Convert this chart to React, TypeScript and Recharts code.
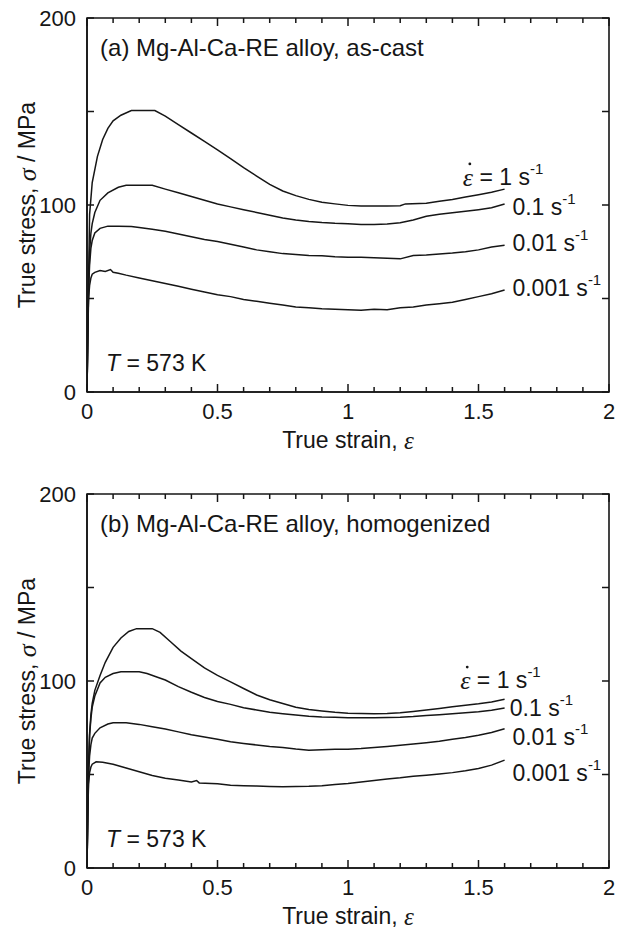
import { LineChart, Line, XAxis, YAxis, ReferenceDot, ReferenceArea } from "recharts"

type Pt = [number, number]

const strainTicks = [0, 0.1, 0.2, 0.3, 0.4, 0.5, 0.6, 0.7, 0.8, 0.9, 1, 1.1, 1.2, 1.3, 1.4, 1.5, 1.6, 1.7, 1.8, 1.9, 2]
const strainLabels = [0, 0.5, 1, 1.5, 2]
const stressTicks = [0, 50, 100, 150, 200]
const stressLabels = [0, 100, 200]
const rateNames = ["1", "0.1", "0.01", "0.001"]

// (a) as-cast, [strain, stress MPa]
const castRate1: Pt[] = [
  [0, 0], [0.003, 30], [0.006, 60], [0.01, 95], [0.02, 112], [0.04, 126], [0.06, 135], [0.08, 141],
  [0.1, 145], [0.13, 148], [0.17, 150.5], [0.26, 150.5], [0.3, 147.5], [0.35, 143], [0.4, 138.5],
  [0.45, 134], [0.5, 129.5], [0.55, 124.8], [0.6, 120], [0.65, 115.5], [0.7, 111], [0.75, 107.5],
  [0.8, 105], [0.85, 103], [0.9, 101.5], [0.95, 100.6], [1.0, 99.8], [1.05, 99.4], [1.1, 99.4],
  [1.15, 99.5], [1.2, 99.6], [1.22, 100.6], [1.3, 101], [1.35, 102], [1.4, 103], [1.45, 104.3],
  [1.5, 105.5], [1.55, 106.8], [1.6, 108.5],
]
const castRate01: Pt[] = [
  [0, 0], [0.003, 30], [0.006, 55], [0.01, 75], [0.015, 85], [0.02, 90], [0.03, 96], [0.05, 102.5],
  [0.08, 106.5], [0.12, 109.5], [0.15, 110.5], [0.25, 110.5], [0.3, 108.5], [0.35, 106.5], [0.4, 104.5],
  [0.45, 102.5], [0.5, 100.5], [0.55, 99], [0.6, 97.5], [0.65, 96], [0.7, 94.5], [0.75, 93], [0.8, 92],
  [0.85, 91.2], [0.9, 90.6], [0.95, 90.2], [1.0, 90], [1.05, 89.6], [1.1, 89.6], [1.15, 89.8], [1.2, 90.5],
  [1.25, 92], [1.3, 94], [1.35, 95], [1.4, 95.8], [1.45, 96.6], [1.5, 97.5], [1.55, 98.5], [1.6, 100.5],
]
const castRate001: Pt[] = [
  [0, 0], [0.003, 30], [0.006, 55], [0.01, 68], [0.015, 77], [0.02, 81], [0.03, 85], [0.05, 87.5],
  [0.08, 88.7], [0.12, 88.7], [0.17, 88.5], [0.2, 88], [0.25, 87], [0.3, 86], [0.35, 84.5], [0.4, 83],
  [0.45, 81.5], [0.5, 80.5], [0.55, 79], [0.6, 77.5], [0.65, 76], [0.7, 75], [0.75, 74], [0.8, 73.5],
  [0.85, 73], [0.9, 72.8], [0.95, 72.3], [1.0, 72], [1.05, 72], [1.1, 71.8], [1.15, 71.5], [1.2, 71.2],
  [1.25, 73], [1.3, 73.3], [1.35, 73.8], [1.4, 74.3], [1.45, 75], [1.5, 76], [1.55, 77.5], [1.6, 78.5],
]
const castRate0001: Pt[] = [
  [0, 0], [0.003, 30], [0.006, 50], [0.01, 57], [0.015, 61], [0.02, 63], [0.03, 64], [0.05, 65],
  [0.07, 64.5], [0.09, 65.5], [0.1, 64], [0.12, 63.5], [0.15, 62.5], [0.2, 61], [0.25, 59.5], [0.3, 58],
  [0.35, 56.5], [0.4, 55], [0.45, 53.5], [0.5, 52], [0.55, 51], [0.6, 49.5], [0.65, 48.5], [0.7, 47.5],
  [0.75, 46.5], [0.8, 45.5], [0.85, 45], [0.9, 44.5], [0.95, 44.3], [1.0, 44], [1.05, 43.7], [1.1, 44.2],
  [1.15, 44], [1.2, 45], [1.25, 45.5], [1.3, 46.5], [1.35, 47.2], [1.4, 48], [1.45, 49.5], [1.5, 51],
  [1.55, 52.5], [1.6, 54.5],
]

// (b) homogenized
const homoRate1: Pt[] = [
  [0, 0], [0.003, 30], [0.006, 55], [0.01, 72], [0.015, 82], [0.02, 88], [0.03, 95], [0.05, 103],
  [0.07, 110], [0.1, 118], [0.13, 123], [0.16, 126.5], [0.19, 128], [0.25, 128], [0.28, 126], [0.32, 121],
  [0.36, 116], [0.4, 112], [0.45, 107], [0.5, 103], [0.55, 99.5], [0.6, 96], [0.65, 92.5], [0.7, 90],
  [0.75, 88], [0.8, 86], [0.85, 84.8], [0.9, 84], [0.95, 83.3], [1.0, 82.8], [1.05, 82.6], [1.1, 82.5],
  [1.15, 82.6], [1.2, 83], [1.25, 83.7], [1.3, 84.5], [1.35, 85.3], [1.4, 86.2], [1.45, 87], [1.5, 87.8],
  [1.55, 88.8], [1.6, 90.2],
]
const homoRate01: Pt[] = [
  [0, 0], [0.003, 30], [0.006, 55], [0.01, 71], [0.015, 80], [0.02, 86], [0.03, 92], [0.05, 99],
  [0.07, 102], [0.1, 104], [0.13, 105], [0.2, 105], [0.23, 104], [0.27, 102], [0.3, 100.5], [0.35, 97],
  [0.4, 94], [0.45, 91.2], [0.5, 89], [0.55, 87.5], [0.6, 85.7], [0.65, 84.5], [0.7, 83.3], [0.75, 82.5],
  [0.8, 81.8], [0.85, 81.2], [0.9, 80.8], [0.95, 80.6], [1.0, 80.4], [1.05, 80.3], [1.1, 80.4], [1.15, 80.5],
  [1.2, 80.6], [1.25, 81], [1.3, 81.6], [1.35, 82], [1.4, 82.5], [1.45, 83], [1.5, 83.6], [1.55, 84.4],
  [1.6, 85.5],
]
const homoRate001: Pt[] = [
  [0, 0], [0.003, 30], [0.006, 50], [0.01, 60], [0.015, 66], [0.02, 69.5], [0.03, 72], [0.05, 75],
  [0.08, 77], [0.1, 77.7], [0.15, 77.7], [0.2, 76.8], [0.25, 75.5], [0.3, 74.3], [0.35, 72.8], [0.4, 71.2],
  [0.45, 70], [0.5, 68.8], [0.55, 67.5], [0.6, 66.6], [0.65, 65.8], [0.7, 65], [0.75, 64.5], [0.8, 63.6],
  [0.85, 63], [0.9, 63.2], [0.95, 63.5], [1.0, 63.5], [1.05, 63.9], [1.1, 64.5], [1.15, 65], [1.2, 65.6],
  [1.25, 66.3], [1.3, 67], [1.35, 67.8], [1.4, 68.8], [1.45, 69.8], [1.5, 71], [1.55, 72.5], [1.6, 74.5],
]
const homoRate0001: Pt[] = [
  [0, 0], [0.003, 30], [0.006, 45], [0.01, 51], [0.015, 54], [0.02, 55.5], [0.035, 56.8], [0.06, 56.5],
  [0.1, 55.5], [0.15, 53.5], [0.2, 51.5], [0.25, 49.5], [0.3, 48], [0.35, 47], [0.4, 46], [0.42, 46.8],
  [0.43, 45.5], [0.5, 45], [0.55, 44.3], [0.6, 44], [0.65, 43.8], [0.7, 43.6], [0.75, 43.4], [0.8, 43.6],
  [0.85, 43.7], [0.9, 44], [0.95, 44.6], [1.0, 45.2], [1.05, 46], [1.1, 46.8], [1.15, 47.6], [1.2, 48.2],
  [1.25, 49], [1.3, 49.6], [1.35, 50.3], [1.4, 51], [1.45, 52], [1.5, 53.2], [1.55, 55], [1.6, 57.7],
]

// where the rate labels sit, [strain, stress]
const castLabelAt: Pt[] = [[1.44, 115], [1.63, 99], [1.63, 79.7], [1.63, 55.6]]
const homoLabelAt: Pt[] = [[1.43, 100.5], [1.62, 85.6], [1.63, 70], [1.63, 50.8]]
const titleAt: Pt = [0.05, 184]
const tempAt: Pt = [0.073, 15.5]

const W = 625
const H = 455
const M = { top: 18, right: 16, bottom: 0, left: 0 }
const AXIS_W = 87
const AXIS_H = 63
// plot frame edges, used for the mirrored tick marks on the top and right sides
const plotLeft = M.left + AXIS_W
const plotRight = W - M.right
const plotTop = M.top
const plotBottom = H - M.bottom - AXIS_H

const ink = "#161616"
const sans = "'Liberation Sans', Arial, Helvetica, sans-serif"
const serif = "'Liberation Serif', 'Times New Roman', serif"
const fs = 23

const toRows = (pts: Pt[]) => pts.map(([x, y]) => ({ x, y }))
const near = (list: number[], v: number) => list.some((l) => Math.abs(l - v) < 1e-6)

function strainTick(p: any) {
  const major = near(strainLabels, p.payload.value)
  const len = major ? 8 : 5
  return (
    <g>
      <line x1={p.x} x2={p.x} y1={plotBottom} y2={plotBottom - len} stroke={ink} strokeWidth={1.5} />
      <line x1={p.x} x2={p.x} y1={plotTop} y2={plotTop + len} stroke={ink} strokeWidth={1.5} />
      {major && (
        <text x={p.x} y={plotBottom + 19} textAnchor="middle" dominantBaseline="central" fontFamily={sans} fontSize={22} fill={ink}>
          {p.payload.value}
        </text>
      )}
    </g>
  )
}

function stressTick(p: any) {
  const v = p.payload.value
  return (
    <g>
      <line x1={plotLeft} x2={plotLeft + 7} y1={p.y} y2={p.y} stroke={ink} strokeWidth={1.5} />
      <line x1={plotRight} x2={plotRight - 7} y1={p.y} y2={p.y} stroke={ink} strokeWidth={1.5} />
      {near(stressLabels, v) && (
        <text x={plotLeft - 11} y={p.y} textAnchor="end" dominantBaseline="central" fontFamily={sans} fontSize={22} fill={ink}>
          {v}
        </text>
      )}
    </g>
  )
}

function xTitle(p: any) {
  const vb = p.viewBox
  return (
    <text x={vb.x + vb.width / 2} y={plotBottom + 48} textAnchor="middle" dominantBaseline="central" fontFamily={sans} fontSize={fs} fill={ink}>
      True strain, <tspan fontFamily={serif} fontStyle="italic" fontSize={25}>ε</tspan>
    </text>
  )
}

function yTitle() {
  const cx = 27
  const cy = (plotTop + plotBottom) / 2
  return (
    <text x={cx} y={cy} transform={`rotate(-90 ${cx} ${cy})`} textAnchor="middle" dominantBaseline="central" fontFamily={sans} fontSize={fs} fill={ink}>
      True stress, <tspan fontFamily={serif} fontStyle="italic" fontSize={26}>σ</tspan> / MPa
    </text>
  )
}

function rateLabel(rate: string) {
  return (p: any) => {
    const x = p.viewBox.x
    const y = p.viewBox.y
    if (rate === "1") {
      return (
        <g>
          <text x={x} y={y} dominantBaseline="central" fill={ink} fontFamily={sans} fontSize={fs}>
            <tspan fontFamily={serif} fontStyle="italic" fontSize={26}>ε</tspan>
            <tspan> = 1 s</tspan>
            <tspan dy={-9} fontSize={15}>-1</tspan>
          </text>
          <circle cx={x + 7} cy={y - 13} r={1.4} fill={ink} />
        </g>
      )
    }
    return (
      <text x={x} y={y} dominantBaseline="central" fontFamily={sans} fontSize={fs} fill={ink}>
        <tspan>{`${rate} s`}</tspan>
        <tspan dy={-9} fontSize={15}>-1</tspan>
      </text>
    )
  }
}

function plainLabel(content: any, size: number) {
  return (p: any) => (
    <text x={p.viewBox.x} y={p.viewBox.y} dominantBaseline="central" fontFamily={sans} fontSize={size} fill={ink}>
      {content}
    </text>
  )
}

interface PanelProps {
  top: number
  title: string
  series: Pt[][]
  labelAt: Pt[]
}

function Panel({ top, title, series, labelAt }: PanelProps) {
  return (
    <div style={{ position: "absolute", left: 0, top, width: W, height: H }}>
      <LineChart width={W} height={H} margin={M}>
        <XAxis
          type="number"
          dataKey="x"
          domain={[0, 2]}
          ticks={strainTicks}
          interval={0}
          allowDataOverflow
          height={AXIS_H}
          tickSize={0}
          tickMargin={0}
          tickLine={false}
          tick={strainTick}
          axisLine={{ stroke: ink, strokeWidth: 1.6 }}
          label={xTitle}
        />
        <YAxis
          type="number"
          domain={[0, 200]}
          ticks={stressTicks}
          interval={0}
          allowDataOverflow
          width={AXIS_W}
          tickSize={0}
          tickMargin={0}
          tickLine={false}
          tick={stressTick}
          axisLine={{ stroke: ink, strokeWidth: 1.6 }}
          label={yTitle}
        />
        {/* plot frame */}
        <ReferenceArea x1={0} x2={2} y1={0} y2={200} fill="none" fillOpacity={0} stroke={ink} strokeWidth={1.6} ifOverflow="visible" />
        {series.map((pts, i) => (
          <Line
            key={rateNames[i]}
            data={toRows(pts)}
            dataKey="y"
            type="linear"
            dot={false}
            stroke={ink}
            strokeWidth={1.5}
            isAnimationActive={false}
          />
        ))}
        {labelAt.map(([x, y], i) => (
          <ReferenceDot key={"lab" + i} x={x} y={y} r={0} stroke="none" fill="none" label={rateLabel(rateNames[i])} />
        ))}
        <ReferenceDot x={titleAt[0]} y={titleAt[1]} r={0} stroke="none" fill="none" label={plainLabel(title, 24)} />
        <ReferenceDot
          x={tempAt[0]}
          y={tempAt[1]}
          r={0}
          stroke="none"
          fill="none"
          label={plainLabel(
            <>
              <tspan fontStyle="italic">T</tspan> = 573 K
            </>,
            fs
          )}
        />
      </LineChart>
    </div>
  )
}

export default function App() {
  return (
    <div style={{ position: "absolute", left: 0, top: 0, width: W, height: 931, background: "#fff" }}>
      <Panel top={0} title="(a) Mg-Al-Ca-RE alloy, as-cast" series={[castRate1, castRate01, castRate001, castRate0001]} labelAt={castLabelAt} />
      <Panel top={476} title="(b) Mg-Al-Ca-RE alloy, homogenized" series={[homoRate1, homoRate01, homoRate001, homoRate0001]} labelAt={homoLabelAt} />
    </div>
  )
}
